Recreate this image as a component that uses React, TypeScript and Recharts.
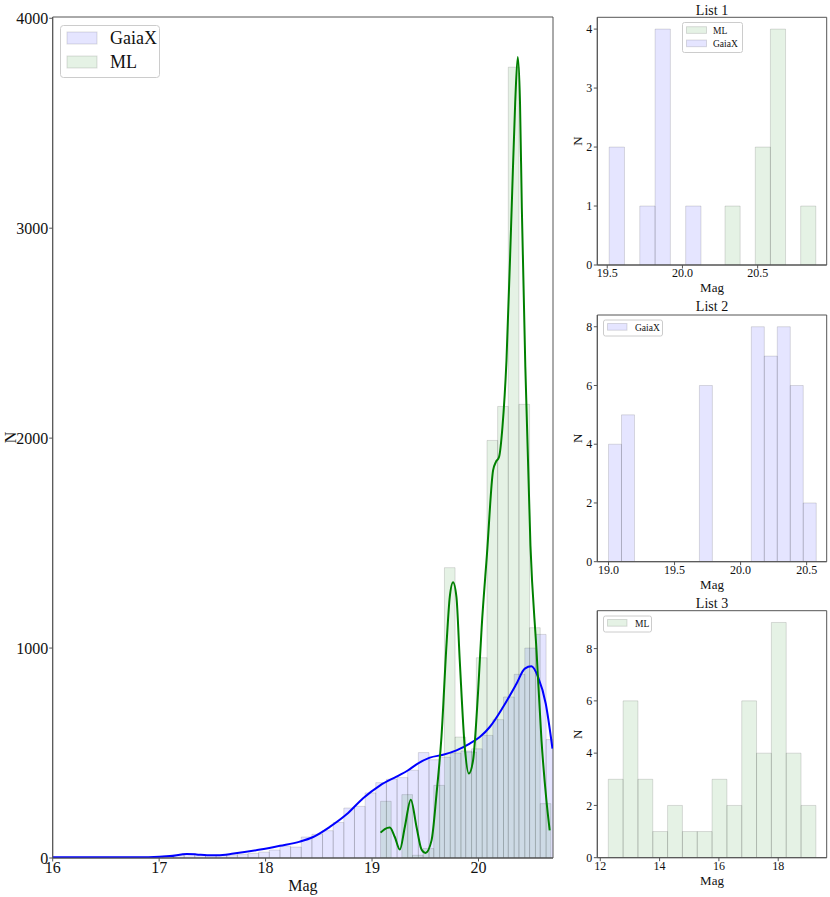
import React from 'react';
import { ComposedChart, XAxis, YAxis, Line, ReferenceArea } from 'recharts';

const FONT = '"Liberation Serif", "DejaVu Serif", serif';
const AXIS = '#555';
const TXT = '#111';

// ---------- Main panel data ----------
const mainXTicks = [16, 17, 18, 19, 20];
const mainYTicks = [0, 1000, 2000, 3000, 4000];

const gaiaBinStart = 16.035;
const gaiaBinWidth = 0.1;
const gaiaCounts = [
  2, 2, 2, 3, 3, 3, 3, 4, 4, 5,
  8, 12, 18, 16, 12, 13, 15, 18, 22, 28,
  38, 57, 52, 100, 113, 130, 169, 238, 246, 310,
  359, 375, 383, 418, 502, 468, 480, 500, 510, 520,
  584, 659, 767, 875, 1000, 1065, 564,
];

const mlBinStart = 19.08;
const mlBinWidth = 0.1;
const mlCounts = [270, 0, 302, 13, 45, 346, 1383, 576, 505, 954, 1989, 2151, 3767, 2161, 1097, 259];

const gaiaKdeMag = [16.0, 16.5, 16.9, 17.1, 17.26, 17.35, 17.45, 17.55, 17.7, 17.95, 18.134, 18.322, 18.447, 18.603, 18.761, 18.916, 19.073, 19.23, 19.339, 19.418, 19.543, 19.668, 19.793, 19.918, 20.012, 20.106, 20.231, 20.357, 20.435, 20.498, 20.56, 20.632, 20.695];
const gaiaKdeN = [3, 3, 4, 9, 19, 17, 13, 13, 21, 40, 58, 78, 100, 148, 208, 285, 345, 388, 418, 446, 478, 492, 513, 545, 576, 624, 719, 830, 902, 913, 862, 735, 521];

const mlKdeMag = [19.08, 19.12, 19.167, 19.214, 19.261, 19.308, 19.364, 19.418, 19.465, 19.502, 19.559, 19.606, 19.652, 19.7, 19.73, 19.761, 19.793, 19.824, 19.871, 19.909, 19.949, 19.996, 20.03, 20.08, 20.137, 20.163, 20.193, 20.225, 20.263, 20.312, 20.345, 20.369, 20.39, 20.407, 20.44, 20.488, 20.545, 20.592, 20.638, 20.669];
const mlKdeN = [121, 138, 145, 100, 40, 148, 278, 148, 40, 24, 84, 307, 576, 1021, 1243, 1314, 1243, 941, 529, 402, 465, 790, 1100, 1450, 1846, 1886, 1910, 2052, 2370, 3100, 3600, 3815, 3600, 3100, 2340, 1490, 989, 560, 275, 132];

// ---------- Small panels data ----------
const list1GaiaStart = 19.513;
const list1GaiaWidth = 0.1017;
const list1GaiaCounts = [2, 0, 1, 4, 0, 1];
const list1MlStart = 20.283;
const list1MlWidth = 0.1006;
const list1MlCounts = [1, 0, 2, 4, 0, 1];
const list1XTicks = [19.5, 20.0, 20.5];
const list1YTicks = [0, 1, 2, 3, 4];

const list2GaiaStart = 19.0;
const list2GaiaWidth = 0.0983;
const list2GaiaCounts = [4, 5, 0, 0, 0, 0, 0, 6, 0, 0, 0, 8, 7, 8, 6, 2];
const list2XTicks = [19.0, 19.5, 20.0, 20.5];
const list2YTicks = [0, 2, 4, 6, 8];

const list3MlStart = 12.27;
const list3MlWidth = 0.5;
const list3MlCounts = [3, 6, 3, 1, 2, 1, 1, 3, 2, 6, 4, 9, 4, 2];
const list3XTicks = [12, 14, 16, 18];
const list3YTicks = [0, 2, 4, 6, 8];

type Bin = { x0: number; x1: number; n: number };
function makeBins(start: number, width: number, counts: number[]): Bin[] {
  return counts.map((n, i) => ({ x0: start + i * width, x1: start + (i + 1) * width, n }));
}

const BLUE = 'blue';
const GREEN = 'green';
const FILL_OP = 0.1;

function histAreas(bins: Bin[], color: string, keyPrefix: string) {
  return bins
    .filter((b) => b.n > 0)
    .map((b, i) => (
      <ReferenceArea
        key={keyPrefix + i}
        x1={b.x0}
        x2={b.x1}
        y1={0}
        y2={b.n}
        fill={color}
        fillOpacity={FILL_OP}
        stroke="#000"
        strokeOpacity={0.13}
        strokeWidth={1}
        ifOverflow="hidden"
      />
    ));
}

const yLabel = (cx: number, fs: number) => (props: any) => {
  const vb = props.viewBox || { y: 0, height: 0 };
  const y = vb.y + vb.height / 2;
  return (
    <text
      x={cx}
      y={y}
      transform={`rotate(-90, ${cx}, ${y})`}
      textAnchor="middle"
      dominantBaseline="central"
      fontSize={fs}
      fontFamily={FONT}
      fill={TXT}
    >
      N
    </text>
  );
};

const xLabel = (dy: number, fs: number) => (props: any) => {
  const vb = props.viewBox || { x: 0, y: 0, width: 0 };
  return (
    <text x={vb.x + vb.width / 2} y={vb.y + dy} textAnchor="middle" fontSize={fs} fontFamily={FONT} fill={TXT}>
      Mag
    </text>
  );
};

function MainChart() {
  const gaiaBins = makeBins(gaiaBinStart, gaiaBinWidth, gaiaCounts);
  const mlBins = makeBins(mlBinStart, mlBinWidth, mlCounts);
  const rows: any[] = [];
  gaiaKdeMag.forEach((m, i) => rows.push({ mag: m, gaia: gaiaKdeN[i] }));
  mlKdeMag.forEach((m, i) => rows.push({ mag: m, ml: mlKdeN[i] }));
  rows.sort((a, b) => a.mag - b.mag);
  const tickStyle = { fontSize: 16, fontFamily: FONT, fill: TXT };
  return (
    <ComposedChart width={560} height={897} data={rows} margin={{ top: 17, right: 7, bottom: 0, left: 0 }}>
      <XAxis
        dataKey="mag"
        type="number"
        domain={[16, 20.7]}
        allowDataOverflow
        ticks={mainXTicks}
        height={39}
        tickSize={3.5}
        tickMargin={0}
        stroke={AXIS}
        tick={tickStyle}
        tickLine={{ stroke: AXIS }}
        axisLine={{ stroke: AXIS }}
        label={xLabel(33, 16)}
      />
      <YAxis
        type="number"
        domain={[0, 4006]}
        allowDataOverflow
        ticks={mainYTicks}
        width={52.7}
        tickSize={3.5}
        tickMargin={1}
        stroke={AXIS}
        tick={tickStyle}
        tickLine={{ stroke: AXIS }}
        axisLine={{ stroke: AXIS }}
        label={yLabel(10, 16)}
      />
      {histAreas(gaiaBins, BLUE, 'g')}
      {histAreas(mlBins, GREEN, 'm')}
      <ReferenceArea x1={16} x2={20.7} y1={0} y2={4006} fill="none" stroke={AXIS} strokeWidth={1} ifOverflow="visible" />
      <Line dataKey="gaia" type="monotone" stroke="blue" strokeWidth={2} dot={false} activeDot={false} connectNulls isAnimationActive={false} />
      <Line dataKey="ml" type="monotone" stroke="green" strokeWidth={2} dot={false} activeDot={false} connectNulls isAnimationActive={false} />
    </ComposedChart>
  );
}

type Series = { bins: Bin[]; color: string };

function SmallChart(p: {
  height: number;
  marginTop: number;
  xAxisH: number;
  xDomain: [number, number];
  xTicks: number[];
  yDomain: [number, number];
  yTicks: number[];
  series: Series[];
  fmt?: (v: number) => string;
}) {
  const data = p.series[0].bins.map((b) => ({ mag: b.x0, n: b.n }));
  const tickStyle = { fontSize: 12, fontFamily: FONT, fill: TXT };
  return (
    <ComposedChart width={270} height={p.height} data={data} margin={{ top: p.marginTop, right: 3.3, bottom: 0, left: 0 }}>
      <XAxis
        dataKey="mag"
        type="number"
        domain={p.xDomain}
        allowDataOverflow
        ticks={p.xTicks}
        tickFormatter={p.fmt}
        height={p.xAxisH}
        tickSize={3.5}
        tickMargin={0}
        stroke={AXIS}
        tick={tickStyle}
        tickLine={{ stroke: AXIS }}
        axisLine={{ stroke: AXIS }}
        label={xLabel(27, 13)}
      />
      <YAxis
        type="number"
        domain={p.yDomain}
        allowDataOverflow
        ticks={p.yTicks}
        width={37.3}
        tickSize={3.5}
        tickMargin={1.5}
        stroke={AXIS}
        tick={tickStyle}
        tickLine={{ stroke: AXIS }}
        axisLine={{ stroke: AXIS }}
        label={yLabel(18, 13)}
      />
      {p.series.map((s, i) => histAreas(s.bins, s.color, 's' + i + '_'))}
      <ReferenceArea x1={p.xDomain[0]} x2={p.xDomain[1]} y1={p.yDomain[0]} y2={p.yDomain[1]} fill="none" stroke={AXIS} strokeWidth={1} ifOverflow="visible" />
    </ComposedChart>
  );
}

function LegendPatch({ x, y, w, h, color }: { x: number; y: number; w: number; h: number; color: string }) {
  return <rect x={x} y={y} width={w} height={h} fill={color} fillOpacity={FILL_OP} stroke="#000" strokeOpacity={0.13} />;
}

function Overlay() {
  const t = { fontFamily: FONT, fill: TXT };
  return (
    <svg width={830} height={897} style={{ position: 'absolute', left: 0, top: 0, pointerEvents: 'none' }}>
      {/* main legend */}
      <rect x={60.5} y={25.5} width={99} height={52} rx={3} fill="#fff" fillOpacity={0.8} stroke="#ccc" />
      <LegendPatch x={67} y={32} w={30} h={12} color={BLUE} />
      <text x={110} y={44} fontSize={18} {...t}>GaiaX</text>
      <LegendPatch x={67} y={56} w={30} h={12} color={GREEN} />
      <text x={110} y={68} fontSize={18} {...t}>ML</text>

      {/* titles */}
      <text x={712} y={15} fontSize={14} textAnchor="middle" {...t}>List 1</text>
      <text x={712} y={311} fontSize={14} textAnchor="middle" {...t}>List 2</text>
      <text x={712} y={607.5} fontSize={14} textAnchor="middle" {...t}>List 3</text>

      {/* List 1 legend */}
      <rect x={682.5} y={22.5} width={60} height={30} rx={2} fill="#fff" fillOpacity={0.8} stroke="#ccc" />
      <LegendPatch x={686.5} y={26.7} w={20} h={6.7} color={GREEN} />
      <text x={713} y={33.5} fontSize={9.5} {...t}>ML</text>
      <LegendPatch x={686.5} y={40} w={20} h={6.7} color={BLUE} />
      <text x={713} y={47} fontSize={9.5} {...t}>GaiaX</text>

      {/* List 2 legend */}
      <rect x={603.5} y={320} width={59} height={16} rx={2} fill="#fff" fillOpacity={0.8} stroke="#ccc" />
      <LegendPatch x={607.5} y={323.5} w={19.5} h={6.7} color={BLUE} />
      <text x={635} y={331} fontSize={9.5} {...t}>GaiaX</text>

      {/* List 3 legend */}
      <rect x={603.5} y={616} width={48} height={16} rx={2} fill="#fff" fillOpacity={0.8} stroke="#ccc" />
      <LegendPatch x={607.5} y={619.5} w={19.5} h={6.7} color={GREEN} />
      <text x={635} y={627} fontSize={9.5} {...t}>ML</text>
    </svg>
  );
}

export default function App() {
  const fmt1 = (v: number) => v.toFixed(1);
  return (
    <div style={{ position: 'absolute', left: 0, top: 0, width: 830, height: 897, background: '#fff', overflow: 'hidden' }}>
      <div style={{ position: 'absolute', left: 0, top: 0 }}>
        <MainChart />
      </div>
      <div style={{ position: 'absolute', left: 560, top: 0 }}>
        <SmallChart
          height={297}
          marginTop={17.3}
          xAxisH={32}
          xDomain={[19.434, 20.959]}
          xTicks={list1XTicks}
          yDomain={[0, 4.2]}
          yTicks={list1YTicks}
          fmt={fmt1}
          series={[
            { bins: makeBins(list1MlStart, list1MlWidth, list1MlCounts), color: GREEN },
            { bins: makeBins(list1GaiaStart, list1GaiaWidth, list1GaiaCounts), color: BLUE },
          ]}
        />
      </div>
      <div style={{ position: 'absolute', left: 560, top: 297 }}>
        <SmallChart
          height={297}
          marginTop={18}
          xAxisH={32.3}
          xDomain={[18.915, 20.652]}
          xTicks={list2XTicks}
          yDomain={[0, 8.4]}
          yTicks={list2YTicks}
          fmt={fmt1}
          series={[{ bins: makeBins(list2GaiaStart, list2GaiaWidth, list2GaiaCounts), color: BLUE }]}
        />
      </div>
      <div style={{ position: 'absolute', left: 560, top: 594 }}>
        <SmallChart
          height={303}
          marginTop={16.7}
          xAxisH={39.3}
          xDomain={[11.9, 19.635]}
          xTicks={list3XTicks}
          yDomain={[0, 9.45]}
          yTicks={list3YTicks}
          series={[{ bins: makeBins(list3MlStart, list3MlWidth, list3MlCounts), color: GREEN }]}
        />
      </div>
      <Overlay />
    </div>
  );
}
